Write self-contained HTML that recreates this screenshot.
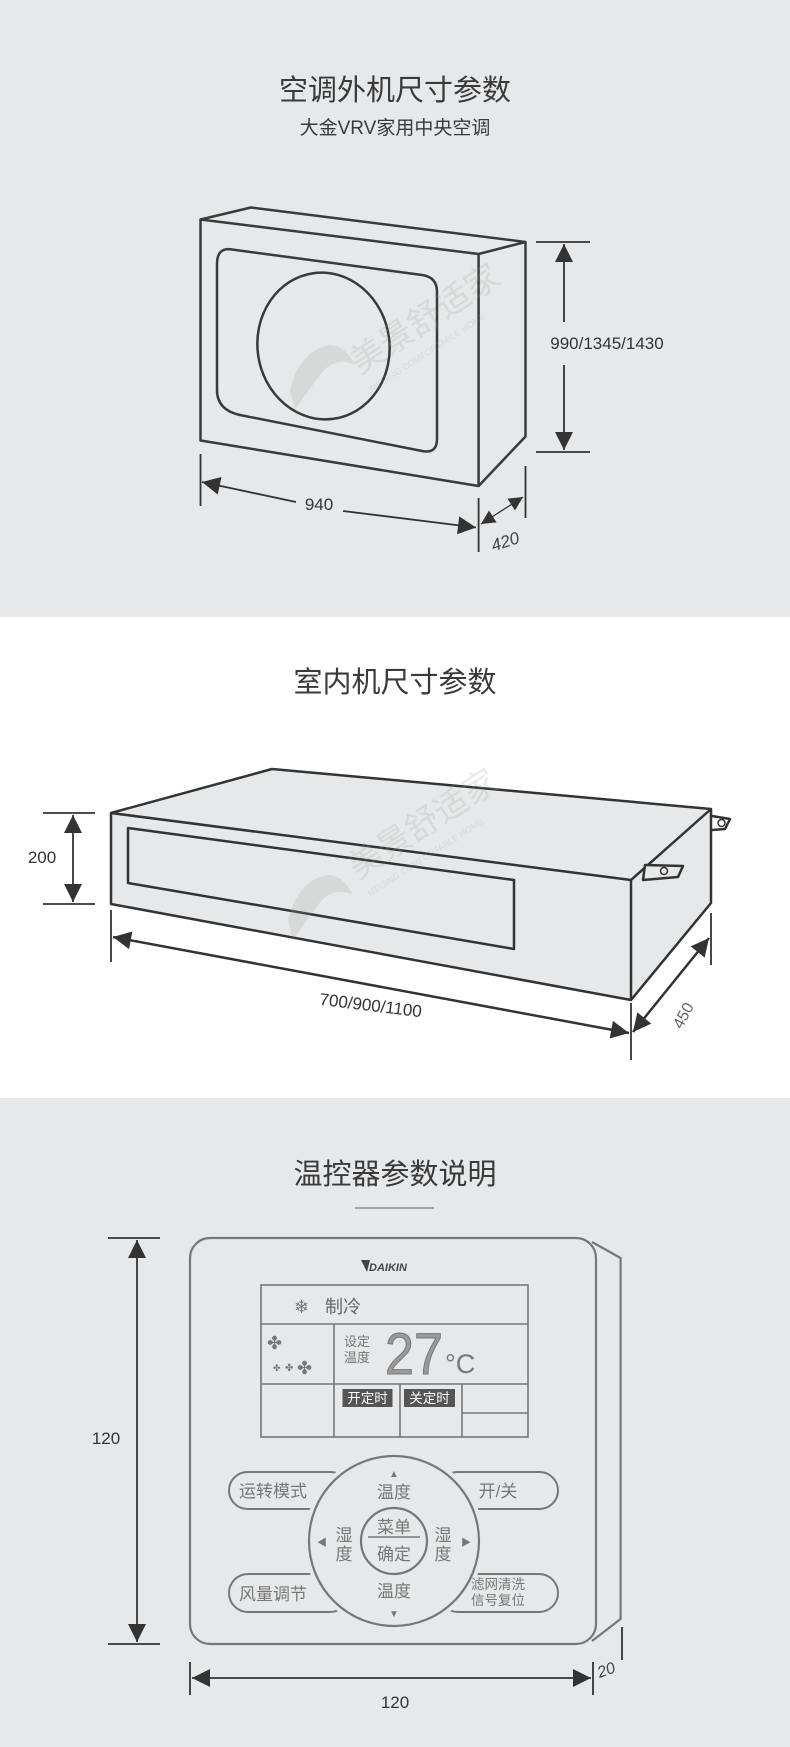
<!DOCTYPE html>
<html><head><meta charset="utf-8"><style>
html,body{margin:0;padding:0;background:#fff}
svg{display:block}
text{font-family:"Liberation Sans","Noto Sans CJK SC",sans-serif}
</style></head><body>
<svg width="790" height="1747" viewBox="0 0 790 1747" xmlns="http://www.w3.org/2000/svg">
<defs>
<marker id="ar" viewBox="0 0 10 10" refX="10" refY="5" markerWidth="20" markerHeight="18" orient="auto-start-reverse" markerUnits="userSpaceOnUse">
<path d="M0,0 L10,5 L0,10 z" fill="#333"/></marker>
<marker id="ar2" viewBox="0 0 10 10" refX="10" refY="5" markerWidth="18" markerHeight="14" orient="auto-start-reverse" markerUnits="userSpaceOnUse">
<path d="M0,0 L10,5 L0,10 z" fill="#333"/></marker>
</defs>
<rect x="0" y="0" width="790" height="617" fill="#e7e8e9"/>
<rect x="0" y="617" width="790" height="481" fill="#ffffff"/>
<rect x="0" y="1098" width="790" height="649" fill="#e7e8e9"/>

<!-- Section 1 -->
<text x="395" y="100" font-size="29" fill="#3a3a3a" text-anchor="middle">空调外机尺寸参数</text>
<text x="395" y="134" font-size="19" fill="#3a3a3a" text-anchor="middle">大金VRV家用中央空调</text>
<g fill="none" stroke="#3a3a3a" stroke-width="2.5" stroke-linejoin="round">
<path d="M200.5,219.5 L251,207.5 L525.5,242 L525.5,436.5 L478.6,486 L200.5,440.5 Z" fill="#e7e8e9"/>
<path d="M200.5,219.5 L478.6,254 L525.5,242 M478.6,254 L478.6,486"/>
<path d="M232,249.5 L422,275 Q437,277 437,292 L437,439 Q437,454 422,451 L240,415 Q217,410 217,390 L217,264 Q217,247 232,249.5 Z"/>
<ellipse cx="323.5" cy="346" rx="66" ry="73.5" transform="rotate(-8 323.5 346)"/>
</g>
<g opacity="0.2" fill="#9a9a9a">
<text x="360" y="375" font-size="34" transform="rotate(-33 360 375)">美景舒适家</text>
<text x="372" y="392" font-size="9" transform="rotate(-33 372 392)">MEIJING COMFORTABLE HOME</text>
<path d="M290,390 Q300,350 330,345 Q345,345 355,365 Q335,355 320,375 Q305,395 295,410 Z"/>
</g>
<g stroke="#333" stroke-width="1.8" fill="none">
<line x1="536" y1="242" x2="590" y2="242"/><line x1="536" y1="452" x2="590" y2="452"/>
<line x1="564" y1="244" x2="564" y2="322" marker-start="url(#ar)"/>
<line x1="564" y1="365" x2="564" y2="450" marker-end="url(#ar)"/>
<line x1="200.5" y1="454" x2="200.5" y2="506"/>
<line x1="478.6" y1="498" x2="478.6" y2="552"/>
<line x1="525.5" y1="466" x2="525.5" y2="518"/>
<line x1="202" y1="482" x2="296" y2="502" marker-start="url(#ar)"/>
<line x1="343" y1="511" x2="476" y2="527.5" marker-end="url(#ar)"/>
<line x1="481" y1="524" x2="523" y2="497" stroke-width="1.3" marker-start="url(#ar2)" marker-end="url(#ar2)"/>
</g>
<text x="607" y="349" font-size="17" fill="#333" text-anchor="middle">990/1345/1430</text>
<text x="319" y="510" font-size="17" fill="#333" text-anchor="middle">940</text>
<text x="507" y="547" font-size="17" fill="#444" text-anchor="middle" font-style="italic" transform="rotate(-18 507 547)">420</text>

<!-- Section 2 -->
<text x="395" y="692" font-size="29" fill="#3a3a3a" text-anchor="middle">室内机尺寸参数</text>
<g fill="none" stroke="#333" stroke-width="2.5" stroke-linejoin="round">
<path d="M712,816 L730,819 L725,829 L712,830" fill="#fff"/>
<circle cx="721.5" cy="823" r="3.5" stroke-width="1.5"/>
<path d="M111,813 L272,769 L711,809 L711,903 L631,1000 L111,904 Z" fill="#e7e8e9"/>
<path d="M111,813 L631,880 L711,809 M631,880 L631,1000"/>
<path d="M128,828 L514,880 L514,949 L128,883 Z"/>
<path d="M645,865 L683,866 L678,877 L643,880 Z" fill="#e7e8e9"/>
<circle cx="664" cy="871" r="3.5" stroke-width="1.5"/>
</g>
<g opacity="0.2" fill="#9a9a9a">
<text x="358" y="880" font-size="34" transform="rotate(-33 358 880)">美景舒适家</text>
<text x="370" y="897" font-size="9" transform="rotate(-33 370 897)">MEIJING COMFORTABLE HOME</text>
<path d="M288,920 Q298,880 328,875 Q343,875 353,895 Q333,885 318,905 Q303,925 293,940 Z"/>
</g>
<g stroke="#333" stroke-width="1.8" fill="none">
<line x1="43" y1="813" x2="95" y2="813"/><line x1="43" y1="904" x2="95" y2="904"/>
<line x1="73" y1="815" x2="73" y2="902" marker-start="url(#ar)" marker-end="url(#ar)"/>
<line x1="111" y1="910" x2="111" y2="962"/>
<line x1="631" y1="1003" x2="631" y2="1060"/>
<line x1="711" y1="913" x2="711" y2="965"/>
<line x1="113" y1="937" x2="629" y2="1033" stroke-width="2.5" marker-start="url(#ar)" marker-end="url(#ar)"/>
<line x1="633" y1="1032" x2="709" y2="938" stroke-width="2.5" marker-start="url(#ar)" marker-end="url(#ar)"/>
</g>
<text x="42" y="863" font-size="17" fill="#333" text-anchor="middle">200</text>
<text x="370" y="1011" font-size="17" fill="#333" text-anchor="middle" transform="rotate(7 370 1011)">700/900/1100</text>
<text x="688" y="1018" font-size="16" fill="#666" text-anchor="middle" transform="rotate(-62 688 1018)">450</text>

<!-- Section 3 -->
<text x="395" y="1184" font-size="29" fill="#3a3a3a" text-anchor="middle">温控器参数说明</text>
<line x1="355" y1="1208" x2="434" y2="1208" stroke="#777" stroke-width="1.2"/>
<g fill="none" stroke="#777" stroke-width="2.2" stroke-linejoin="round">
<path d="M592,1242 L620.6,1258 L620.6,1619 L592,1641"/>
<rect x="190" y="1238" width="406" height="406" rx="20" fill="#e7e8e9"/>
</g>
<path d="M361,1260 L367,1272 L370,1260 Z" fill="#444"/>
<text x="369" y="1271" font-size="11" font-weight="bold" font-style="italic" fill="#444">DAIKIN</text>
<g fill="none" stroke="#777" stroke-width="1.6">
<rect x="261" y="1285" width="267" height="152"/>
<line x1="261" y1="1324" x2="528" y2="1324"/>
<line x1="261" y1="1384" x2="528" y2="1384"/>
<line x1="334" y1="1324" x2="334" y2="1437"/>
<line x1="400" y1="1384" x2="400" y2="1437"/>
<line x1="462" y1="1384" x2="462" y2="1437"/>
<line x1="462" y1="1413" x2="528" y2="1413"/>
</g>
<text x="294" y="1313" font-size="18" fill="#777">❄</text>
<text x="325" y="1313" font-size="18" fill="#666">制冷</text>
<g fill="#777">
<text x="267" y="1349" font-size="18">✤</text>
<text x="273" y="1371" font-size="9">✤</text>
<text x="285" y="1371" font-size="10">✤</text>
<text x="297" y="1374" font-size="18">✤</text>
</g>
<text x="344" y="1346" font-size="13" fill="#777">设定</text>
<text x="344" y="1362" font-size="13" fill="#777">温度</text>
<text x="385" y="1374" font-size="58" fill="#999" stroke="#777" stroke-width="1" textLength="58" lengthAdjust="spacingAndGlyphs" font-family="Liberation Mono, monospace">27</text>
<text x="445" y="1373" font-size="27" fill="#777">°C</text>
<rect x="342.5" y="1389" width="50" height="18" fill="#555"/>
<rect x="404" y="1389" width="51" height="18" fill="#555"/>
<text x="367.5" y="1403" font-size="13.5" fill="#fff" text-anchor="middle">开定时</text>
<text x="429.5" y="1403" font-size="13.5" fill="#fff" text-anchor="middle">关定时</text>

<g fill="none" stroke="#777" stroke-width="2">
<rect x="229" y="1472" width="120" height="37" rx="18.5"/>
<rect x="229" y="1574" width="120" height="38" rx="19"/>
<rect x="439" y="1472" width="119" height="37" rx="18.5"/>
<rect x="439" y="1574" width="119" height="38" rx="19"/>
</g>
<circle cx="394" cy="1541" r="90" fill="#e7e8e9"/>
<circle cx="394" cy="1541" r="85" fill="#e7e8e9" stroke="#777" stroke-width="2.2"/>
<circle cx="394" cy="1541" r="33" fill="none" stroke="#777" stroke-width="2.2"/>
<line x1="368" y1="1537" x2="420" y2="1537" stroke="#777" stroke-width="1.6"/>
<g fill="#777" font-size="17" text-anchor="middle">
<text x="273" y="1497">运转模式</text>
<text x="273" y="1600">风量调节</text>
<text x="498" y="1497">开/关</text>
<text x="498" y="1589" font-size="13.5">滤网清洗</text>
<text x="498" y="1605" font-size="13.5">信号复位</text>
<text x="394" y="1498">温度</text>
<text x="394" y="1597">温度</text>
<text x="394" y="1477" font-size="10">▲</text>
<text x="394" y="1617" font-size="10">▼</text>
<text x="344" y="1541">湿</text>
<text x="344" y="1560">度</text>
<text x="443" y="1541">湿</text>
<text x="443" y="1560">度</text>
<text x="322" y="1546" font-size="10">◀</text>
<text x="466" y="1546" font-size="10">▶</text>
<text x="394" y="1533">菜单</text>
<text x="394" y="1560">确定</text>
</g>
<g stroke="#333" stroke-width="1.8" fill="none">
<line x1="108" y1="1238" x2="160" y2="1238"/><line x1="108" y1="1644" x2="160" y2="1644"/>
<line x1="137" y1="1240" x2="137" y2="1642" marker-start="url(#ar)" marker-end="url(#ar)"/>
<line x1="190" y1="1662" x2="190" y2="1695"/>
<line x1="593" y1="1662" x2="593" y2="1695"/>
<line x1="622" y1="1627" x2="622" y2="1660"/>
<line x1="192" y1="1678" x2="591" y2="1678" marker-start="url(#ar)" marker-end="url(#ar)"/>
</g>
<text x="106" y="1444" font-size="17" fill="#333" text-anchor="middle">120</text>
<text x="395" y="1708" font-size="17" fill="#333" text-anchor="middle">120</text>
<text x="608" y="1675" font-size="16" fill="#444" font-style="italic" text-anchor="middle" transform="rotate(-20 608 1675)">20</text>
</svg>
</body></html>
